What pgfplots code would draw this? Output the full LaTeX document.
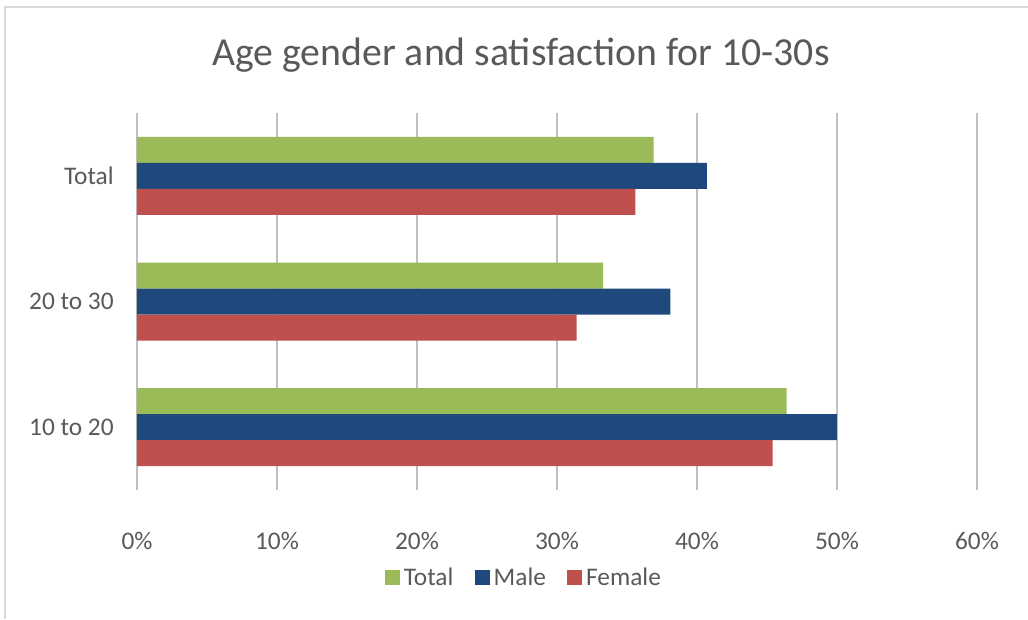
\documentclass[border=0pt]{standalone}
\usepackage{pgfplots}
\pgfplotsset{compat=1.18}
\usepackage{fontspec}
\setmainfont{Carlito}
\definecolor{txt}{HTML}{595959}
\definecolor{grid}{HTML}{D9D9D9}
\definecolor{cgreen}{HTML}{9BBB59}
\definecolor{cblue}{HTML}{1F497D}
\definecolor{cred}{HTML}{C0504D}
\definecolor{frame}{HTML}{D9D9D9}
\begin{document}
\begin{tikzpicture}
\begin{axis}[
  at={(0pt,0pt)}, anchor=south west,
  width=630pt, height=282.75pt, scale only axis,
  xbar, bar width=19.5pt,
  xmin=0, xmax=60, ymin=-0.5, ymax=2.5,
  axis line style={draw=none},
  xmajorgrids=true, ymajorgrids=false,
  grid style={grid, line width=1.3pt},
  xtick={0,10,...,60},
  xticklabel={\pgfmathprintnumber{\tick}\%},
  ytick={0,1,2}, yticklabels={10 to 20,20 to 30,Total},
  major tick length=0pt,
  tick label style={txt, font=\fontsize{19pt}{22pt}\selectfont},
  /pgf/number format/assume math mode=true,
  xticklabel style={yshift=-28.5pt},
  yticklabel style={xshift=-14pt},
  legend style={draw=none, at={(0.461,-0.233)}, anchor=center, legend columns=3,
    font=\fontsize{19pt}{22pt}\selectfont, text=txt,
    /tikz/every odd column/.append style={column sep=1pt},
    /tikz/every even column/.append style={column sep=14pt}},
  legend image code/.code={\fill[#1] (0pt,-5.6pt) rectangle (11.2pt,5.6pt);},
]
\addplot[fill=cgreen, draw=none, bar shift=19.5pt] coordinates {(46.4,0) (33.3,1) (36.9,2)};
\addplot[fill=cblue, draw=none, bar shift=0pt] coordinates {(50.0,0) (38.1,1) (40.7,2)};
\addplot[fill=cred, draw=none, bar shift=-19.5pt] coordinates {(45.4,0) (31.4,1) (35.6,2)};
\legend{Total, Male, Female}
\end{axis}
\draw[frame, line width=1.2pt] (-99pt,-96.75pt) -- (-99pt,362.25pt) -- (668.25pt,362.25pt);
\node[txt, font=\fontsize{29.8pt}{34pt}\selectfont] at (288pt,326.25pt) {Age gender and satisfaction for 10-30s};
\pgfresetboundingbox
\path (-102.75pt,-96.75pt) rectangle (668.25pt,367.5pt);
\end{tikzpicture}
\end{document}
